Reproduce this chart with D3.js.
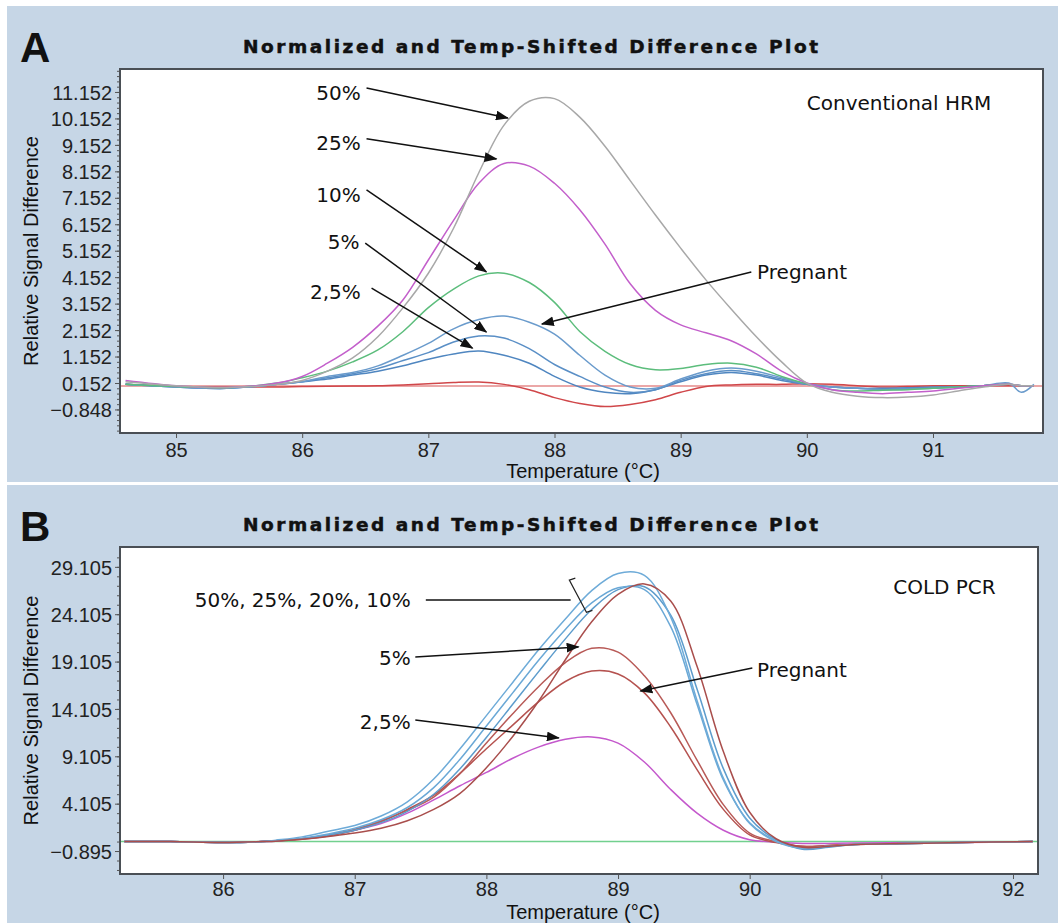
<!DOCTYPE html>
<html>
<head>
<meta charset="utf-8">
<style>
  body { margin: 0; background: #fff; }
  text { fill: #111; }
  .tick text { font-family: "Liberation Sans", Arial, sans-serif; font-size: 20px; fill: #222; }
  .tick line { stroke: #555; }
</style>
</head>
<body>
<svg id="chart" width="1058" height="923"></svg>
<script src="https://d3js.org/d3.v7.min.js"></script>
<script>

// ---- panel A : conventional HRM ----
var tempA = [84.6, 85.0, 85.4, 85.8, 86.0, 86.2, 86.4, 86.6, 86.8, 87.0, 87.2, 87.4, 87.6, 87.8, 88.0, 88.2, 88.4, 88.6, 88.8, 89.0, 89.2, 89.4, 89.6, 89.8, 90.0, 90.2, 90.4, 90.6, 90.8, 91.0, 91.2, 91.4, 91.6, 91.7, 91.8];
var gray50A    = [0.2, 0.05, -0.02, 0.1, 0.25, 0.6, 1.1, 1.9, 3.0, 4.3, 6.0, 8.1, 9.9, 10.8, 10.9, 10.2, 9.1, 7.8, 6.5, 5.25, 4.05, 2.95, 1.9, 0.95, 0.15, -0.2, -0.35, -0.4, -0.38, -0.3, -0.15, 0.0, 0.1, 0.05, 0.05];
var magenta25A = [0.25, 0.05, -0.02, 0.15, 0.4, 0.9, 1.5, 2.3, 3.3, 4.8, 6.3, 7.7, 8.45, 8.35, 7.7, 6.7, 5.4, 3.9, 2.9, 2.35, 2.05, 1.75, 1.25, 0.6, 0.15, -0.1, -0.2, -0.25, -0.2, -0.15, -0.05, 0.05, 0.1, 0.05, 0.05];
var green10A   = [0.1, 0.02, -0.03, 0.15, 0.35, 0.6, 0.95, 1.4, 2.1, 3.0, 3.7, 4.2, 4.3, 3.95, 3.2, 2.1, 1.35, 0.85, 0.65, 0.7, 0.85, 0.9, 0.75, 0.4, 0.12, -0.1, -0.15, -0.12, -0.1, -0.05, 0.0, 0.05, 0.1, 0.05, 0.05];
var bluePregA  = [0.1, 0.0, -0.05, 0.1, 0.2, 0.4, 0.55, 0.8, 1.2, 1.65, 2.2, 2.55, 2.68, 2.45, 2.0, 1.2, 0.45, 0.0, -0.05, 0.3, 0.6, 0.72, 0.6, 0.35, 0.12, 0.0, -0.05, -0.1, -0.08, -0.05, 0.0, 0.05, 0.15, -0.2, 0.1];
var blue5A     = [0.1, 0.0, -0.05, 0.1, 0.2, 0.35, 0.5, 0.7, 1.0, 1.3, 1.7, 1.93, 1.85, 1.45, 0.85, 0.4, 0.0, -0.2, -0.1, 0.25, 0.5, 0.62, 0.5, 0.3, 0.1, 0.0, -0.05, -0.08, -0.05, -0.03, 0.0, 0.05, 0.1, 0.05, 0.05];
var blue25A    = [0.1, 0.0, -0.05, 0.1, 0.2, 0.3, 0.45, 0.6, 0.8, 1.05, 1.25, 1.36, 1.2, 0.9, 0.4, 0.0, -0.2, -0.25, -0.1, 0.2, 0.45, 0.55, 0.45, 0.25, 0.1, 0.0, -0.05, -0.05, -0.03, 0.0, 0.0, 0.05, 0.1, 0.05, 0.05];
var red0A      = [0.1, 0.02, 0.0, 0.0, 0.02, 0.03, 0.04, 0.05, 0.08, 0.12, 0.17, 0.19, 0.1, -0.1, -0.4, -0.62, -0.74, -0.66, -0.48, -0.2, 0.02, 0.08, 0.1, 0.1, 0.12, 0.1, 0.05, 0.0, 0.02, 0.05, 0.05, 0.05, 0.05, 0.05, 0.05];
var refLevelA = 0.04;
var xTicksA = [85, 86, 87, 88, 89, 90, 91];
var yTicksA = [-0.848, 0.152, 1.152, 2.152, 3.152, 4.152, 5.152, 6.152, 7.152, 8.152, 9.152, 10.152, 11.152];

// label: text end point (lt, lv), arrow from (t0, v0) to (t1, v1)
var notesA = [
  { text: "50%",  lt: 86.48, lv: 11.11, t0: 86.51, v0: 11.30, t1: 87.63, v1: 10.17 },
  { text: "25%",  lt: 86.48, lv: 9.22,  t0: 86.51, v0: 9.38,  t1: 87.54, v1: 8.62 },
  { text: "10%",  lt: 86.48, lv: 7.26,  t0: 86.51, v0: 7.45,  t1: 87.46, v1: 4.35 },
  { text: "5%",   lt: 86.47, lv: 5.48,  t0: 86.50, v0: 5.44,  t1: 87.46, v1: 2.08 },
  { text: "2,5%", lt: 86.48, lv: 3.59,  t0: 86.55, v0: 3.74,  t1: 87.35, v1: 1.47 },
  { text: "Pregnant", lt: 89.59, lv: 4.35, t0: 89.56, v0: 4.35, t1: 87.90, v1: 2.38, start: true }
];

// ---- panel B : COLD PCR ----
var tempB = [85.25, 85.6, 86.0, 86.3, 86.4, 86.6, 86.8, 87.0, 87.2, 87.4, 87.6, 87.8, 88.0, 88.2, 88.4, 88.6, 88.8, 89.0, 89.2, 89.4, 89.6, 89.8, 90.0, 90.2, 90.4, 90.6, 90.8, 91.2, 91.6, 92.15];
var blue50B    = [0.1, 0.1, 0.0, 0.1, 0.25, 0.6, 1.2, 1.8, 2.8, 4.3, 6.7, 9.9, 13.4, 16.9, 20.4, 23.6, 26.6, 28.4, 28.2, 23.8, 15.0, 6.8, 2.0, 0.1, -0.6, -0.4, -0.2, -0.1, 0.0, 0.1];
var blue25B    = [0.1, 0.1, 0.0, 0.1, 0.2, 0.45, 0.9, 1.5, 2.4, 3.7, 5.8, 8.8, 12.3, 15.8, 19.3, 22.5, 25.3, 26.9, 26.7, 22.8, 14.6, 6.6, 2.1, 0.2, -0.6, -0.4, -0.2, -0.1, 0.0, 0.1];
var blue20B    = [0.1, 0.1, 0.0, 0.1, 0.2, 0.4, 0.8, 1.3, 2.1, 3.3, 5.1, 7.8, 11.1, 14.6, 18.1, 21.5, 24.6, 26.7, 27.0, 24.0, 16.2, 7.8, 2.6, 0.3, -0.7, -0.5, -0.2, -0.1, 0.0, 0.1];
var red10B     = [0.1, 0.1, 0.0, 0.1, 0.15, 0.35, 0.65, 1.0, 1.5, 2.3, 3.5, 5.2, 7.9, 11.2, 15.0, 19.3, 23.3, 26.2, 27.3, 25.5, 18.6, 9.6, 3.2, 0.4, -0.5, -0.4, -0.2, -0.1, 0.0, 0.1];
var red5B      = [0.1, 0.1, 0.0, 0.1, 0.2, 0.4, 0.8, 1.4, 2.3, 3.4, 4.8, 7.3, 10.5, 13.6, 16.5, 19.0, 20.5, 20.1, 17.6, 13.7, 8.7, 4.0, 1.0, 0.1, -0.4, -0.3, -0.2, -0.1, 0.0, 0.1];
var redPregB   = [0.1, 0.1, 0.0, 0.1, 0.2, 0.35, 0.7, 1.3, 2.2, 3.5, 5.0, 7.3, 9.9, 12.4, 14.9, 17.0, 18.1, 17.8, 15.8, 12.2, 7.7, 3.5, 0.8, 0.0, -0.4, -0.3, -0.2, -0.1, 0.0, 0.1];
var magenta25B = [0.1, 0.1, 0.0, 0.1, 0.15, 0.4, 0.8, 1.3, 2.0, 3.1, 4.5, 6.0, 7.4, 8.9, 10.1, 10.9, 11.15, 10.5, 8.5, 5.6, 3.1, 1.3, 0.3, 0.05, -0.1, -0.1, -0.05, 0.0, 0.0, 0.1];
var refLevelB = 0.1;
var xTicksB = [86, 87, 88, 89, 90, 91, 92];
var yTicksB = [-0.895, 4.105, 9.105, 14.105, 19.105, 24.105, 29.105];

var notesB = [
  { text: "5%",   lt: 87.44, lv: 19.49, t0: 87.46, v0: 19.59, t1: 88.70, v1: 20.65 },
  { text: "2,5%", lt: 87.44, lv: 12.73, t0: 87.46, v0: 12.94, t1: 88.55, v1: 11.04 },
  { text: "Pregnant", lt: 90.04, lv: 18.22, t0: 90.02, v0: 18.43, t1: 89.17, v1: 16.0, start: true }
];

var svg = d3.select("#chart");
var defs = svg.append("defs");
defs.append("marker")
    .attr("id", "head")
    .attr("markerUnits", "userSpaceOnUse")
    .attr("viewBox", "0 0 12 9")
    .attr("markerWidth", 13).attr("markerHeight", 10)
    .attr("refX", 11).attr("refY", 4.5)
    .attr("orient", "auto")
  .append("path").attr("d", "M0,0 L12,4.5 L0,9 Z").attr("fill", "#111");

function drawPanel(cfg) {
  var g = svg.append("g");
  g.append("rect")
      .attr("x", 7).attr("y", cfg.top).attr("width", 1051).attr("height", cfg.height)
      .attr("fill", "#c6d6e6");

  var x = d3.scaleLinear().domain(cfg.xDomain).range(cfg.xRange);
  var y = d3.scaleLinear().domain(cfg.yDomain).range(cfg.yRange);
  var x0 = cfg.xRange[0], x1 = cfg.xRange[1], y0 = cfg.yRange[1], y1 = cfg.yRange[0];

  g.append("rect")
      .attr("x", x0).attr("y", y0).attr("width", x1 - x0).attr("height", y1 - y0)
      .attr("fill", "#fff");

  defs.append("clipPath").attr("id", cfg.id + "clip")
    .append("rect").attr("x", x0).attr("y", y0).attr("width", x1 - x0).attr("height", y1 - y0);

  // letter + title
  g.append("text").attr("x", 20).attr("y", cfg.top + 56)
      .style("font-family", "Liberation Sans, Arial, sans-serif")
      .style("font-weight", "bold").style("font-size", "42px")
      .text(cfg.letter);
  g.append("text").attr("x", 243).attr("y", y0 - 16)
      .attr("textLength", 575).attr("lengthAdjust", "spacing")
      .style("font-family", "DejaVu Sans, Verdana, sans-serif")
      .style("font-weight", "bold").style("font-size", "18.5px")
      .style("stroke", "#111").style("stroke-width", 0.5)
      .text("Normalized and Temp-Shifted Difference Plot");

  // minor ticks
  g.append("g").attr("transform", "translate(" + x0 + ",0)")
      .call(d3.axisLeft(y).tickValues(cfg.yMinor).tickSize(3).tickFormat(""))
      .call(function(s) { s.select(".domain").remove(); s.selectAll("line").attr("stroke", "#777"); });

  g.append("g").attr("transform", "translate(" + x0 + ",0)")
      .call(d3.axisLeft(y).tickValues(cfg.yTicks).tickSize(5).tickPadding(3).tickFormat(d3.format(".3f")))
      .call(function(s) { s.select(".domain").remove(); s.selectAll("text").attr("dy", "0.36em"); });

  g.append("g").attr("transform", "translate(0," + y1 + ")")
      .call(d3.axisBottom(x).tickValues(cfg.xTicks).tickSize(5).tickPadding(cfg.xPad).tickFormat(d3.format("d")))
      .call(function(s) { s.select(".domain").remove(); });

  // axis titles
  g.append("text")
      .attr("transform", "translate(38," + ((y0 + y1) / 2) + ") rotate(-90)")
      .attr("text-anchor", "middle")
      .style("font-family", "Liberation Sans, Arial, sans-serif").style("font-size", "20px")
      .text("Relative Signal Difference");
  g.append("text")
      .attr("x", 583).attr("y", y1 + cfg.xTitleGap)
      .attr("text-anchor", "middle")
      .style("font-family", "Liberation Sans, Arial, sans-serif").style("font-size", "20px")
      .text("Temperature (\u00B0C)");

  // curves
  var plot = g.append("g").attr("clip-path", "url(#" + cfg.id + "clip)");
  plot.append("line")
      .attr("x1", x0).attr("x2", x1)
      .attr("y1", y(cfg.refLevel)).attr("y2", y(cfg.refLevel))
      .attr("stroke", cfg.refColor).attr("stroke-width", 1.5);

  var line = d3.line()
      .x(function(d) { return x(d[0]); })
      .y(function(d) { return y(d[1]); })
      .curve(d3.curveCatmullRom.alpha(0.5));

  cfg.series.forEach(function(s) {
    plot.append("path")
        .datum(d3.zip(cfg.temps, s.values))
        .attr("fill", "none")
        .attr("stroke", s.color)
        .attr("stroke-width", 1.5)
        .attr("d", line);
  });

  // frame
  g.append("rect")
      .attr("x", x0).attr("y", y0).attr("width", x1 - x0).attr("height", y1 - y0)
      .attr("fill", "none").attr("stroke", "#4a4f55").attr("stroke-width", 2);

  // annotations
  var labelFont = "DejaVu Sans, Verdana, sans-serif";
  cfg.notes.forEach(function(n) {
    g.append("line")
        .attr("x1", x(n.t0)).attr("y1", y(n.v0))
        .attr("x2", x(n.t1)).attr("y2", y(n.v1))
        .attr("stroke", "#111").attr("stroke-width", 1.5)
        .attr("marker-end", "url(#head)");
    g.append("text")
        .attr("x", x(n.lt) + (n.start ? 2 : -2)).attr("y", y(n.lv))
        .attr("dy", "0.36em")
        .attr("text-anchor", n.start ? "start" : "end")
        .style("font-family", labelFont).style("font-size", "20px")
        .text(n.text);
  });

  g.append("text")
      .attr("x", x(cfg.tag.t)).attr("y", y(cfg.tag.v)).attr("dy", "0.36em")
      .style("font-family", labelFont).style("font-size", "20px")
      .text(cfg.tag.text);

  return { g: g, x: x, y: y };
}

drawPanel({
  id: "a", letter: "A", top: 6, height: 476,
  xDomain: [84.556, 91.872], xRange: [120, 1043],
  yDomain: [-1.738, 12.02], yRange: [433, 69],
  xTicks: xTicksA, yTicks: yTicksA, xTitleGap: 45, xPad: 5,
  yMinor: d3.range(-1.648, 12.0, 0.2),
  temps: tempA, refLevel: refLevelA, refColor: "#e58a8a",
  series: [
    { values: red0A, color: "#d0474a" },
    { values: blue25A, color: "#4f86c0" },
    { values: blue5A, color: "#5a8fc6" },
    { values: bluePregA, color: "#6a9bcc" },
    { values: green10A, color: "#5cbd7c" },
    { values: magenta25A, color: "#c35fcb" },
    { values: gray50A, color: "#a8a8a8" }
  ],
  notes: notesA,
  tag: { text: "Conventional HRM", t: 90.0, v: 10.74 }
});

var pB = drawPanel({
  id: "b", letter: "B", top: 485, height: 438,
  xDomain: [85.217, 92.19], xRange: [120, 1038],
  yDomain: [-3.32, 31.2], yRange: [874, 547],
  xTicks: xTicksB, yTicks: yTicksB, xTitleGap: 45, xPad: 3,
  yMinor: d3.range(-2.895, 31.0, 1),
  temps: tempB, refLevel: refLevelB, refColor: "#72d08e",
  series: [
    { values: magenta25B, color: "#c458cc" },
    { values: redPregB, color: "#b5524f" },
    { values: red5B, color: "#b85a57" },
    { values: blue20B, color: "#5d9ccc" },
    { values: blue25B, color: "#6aa8d6" },
    { values: blue50B, color: "#6eabd8" },
    { values: red10B, color: "#a94e4c" }
  ],
  notes: notesB,
  tag: { text: "COLD PCR", t: 91.09, v: 26.98 }
});

// grouped label with a bracket across the top curves
var groupNote = { text: "50%, 25%, 20%, 10%", lt: 87.44, lv: 25.61, t0: 87.54, t1: 88.64,
                  bt0: 88.63, bv0: 27.7, bt1: 88.76, bv1: 24.3 };
pB.g.append("text")
    .attr("x", pB.x(groupNote.lt) - 2).attr("y", pB.y(groupNote.lv)).attr("dy", "0.36em")
    .attr("text-anchor", "end")
    .style("font-family", "DejaVu Sans, Verdana, sans-serif").style("font-size", "20px")
    .text(groupNote.text);
pB.g.append("line")
    .attr("x1", pB.x(groupNote.t0)).attr("x2", pB.x(groupNote.t1))
    .attr("y1", pB.y(groupNote.lv)).attr("y2", pB.y(groupNote.lv))
    .attr("stroke", "#111").attr("stroke-width", 1.5);
var bx0 = pB.x(groupNote.bt0), by0 = pB.y(groupNote.bv0),
    bx1 = pB.x(groupNote.bt1), by1 = pB.y(groupNote.bv1);
pB.g.append("path")
    .attr("d", "M" + (bx0 + 6) + "," + (by0 - 2) + "L" + bx0 + "," + by0 +
               "L" + bx1 + "," + by1 + "L" + (bx1 + 6) + "," + (by1 - 2))
    .attr("fill", "none").attr("stroke", "#222").attr("stroke-width", 1.2);

</script>
</body>
</html>
